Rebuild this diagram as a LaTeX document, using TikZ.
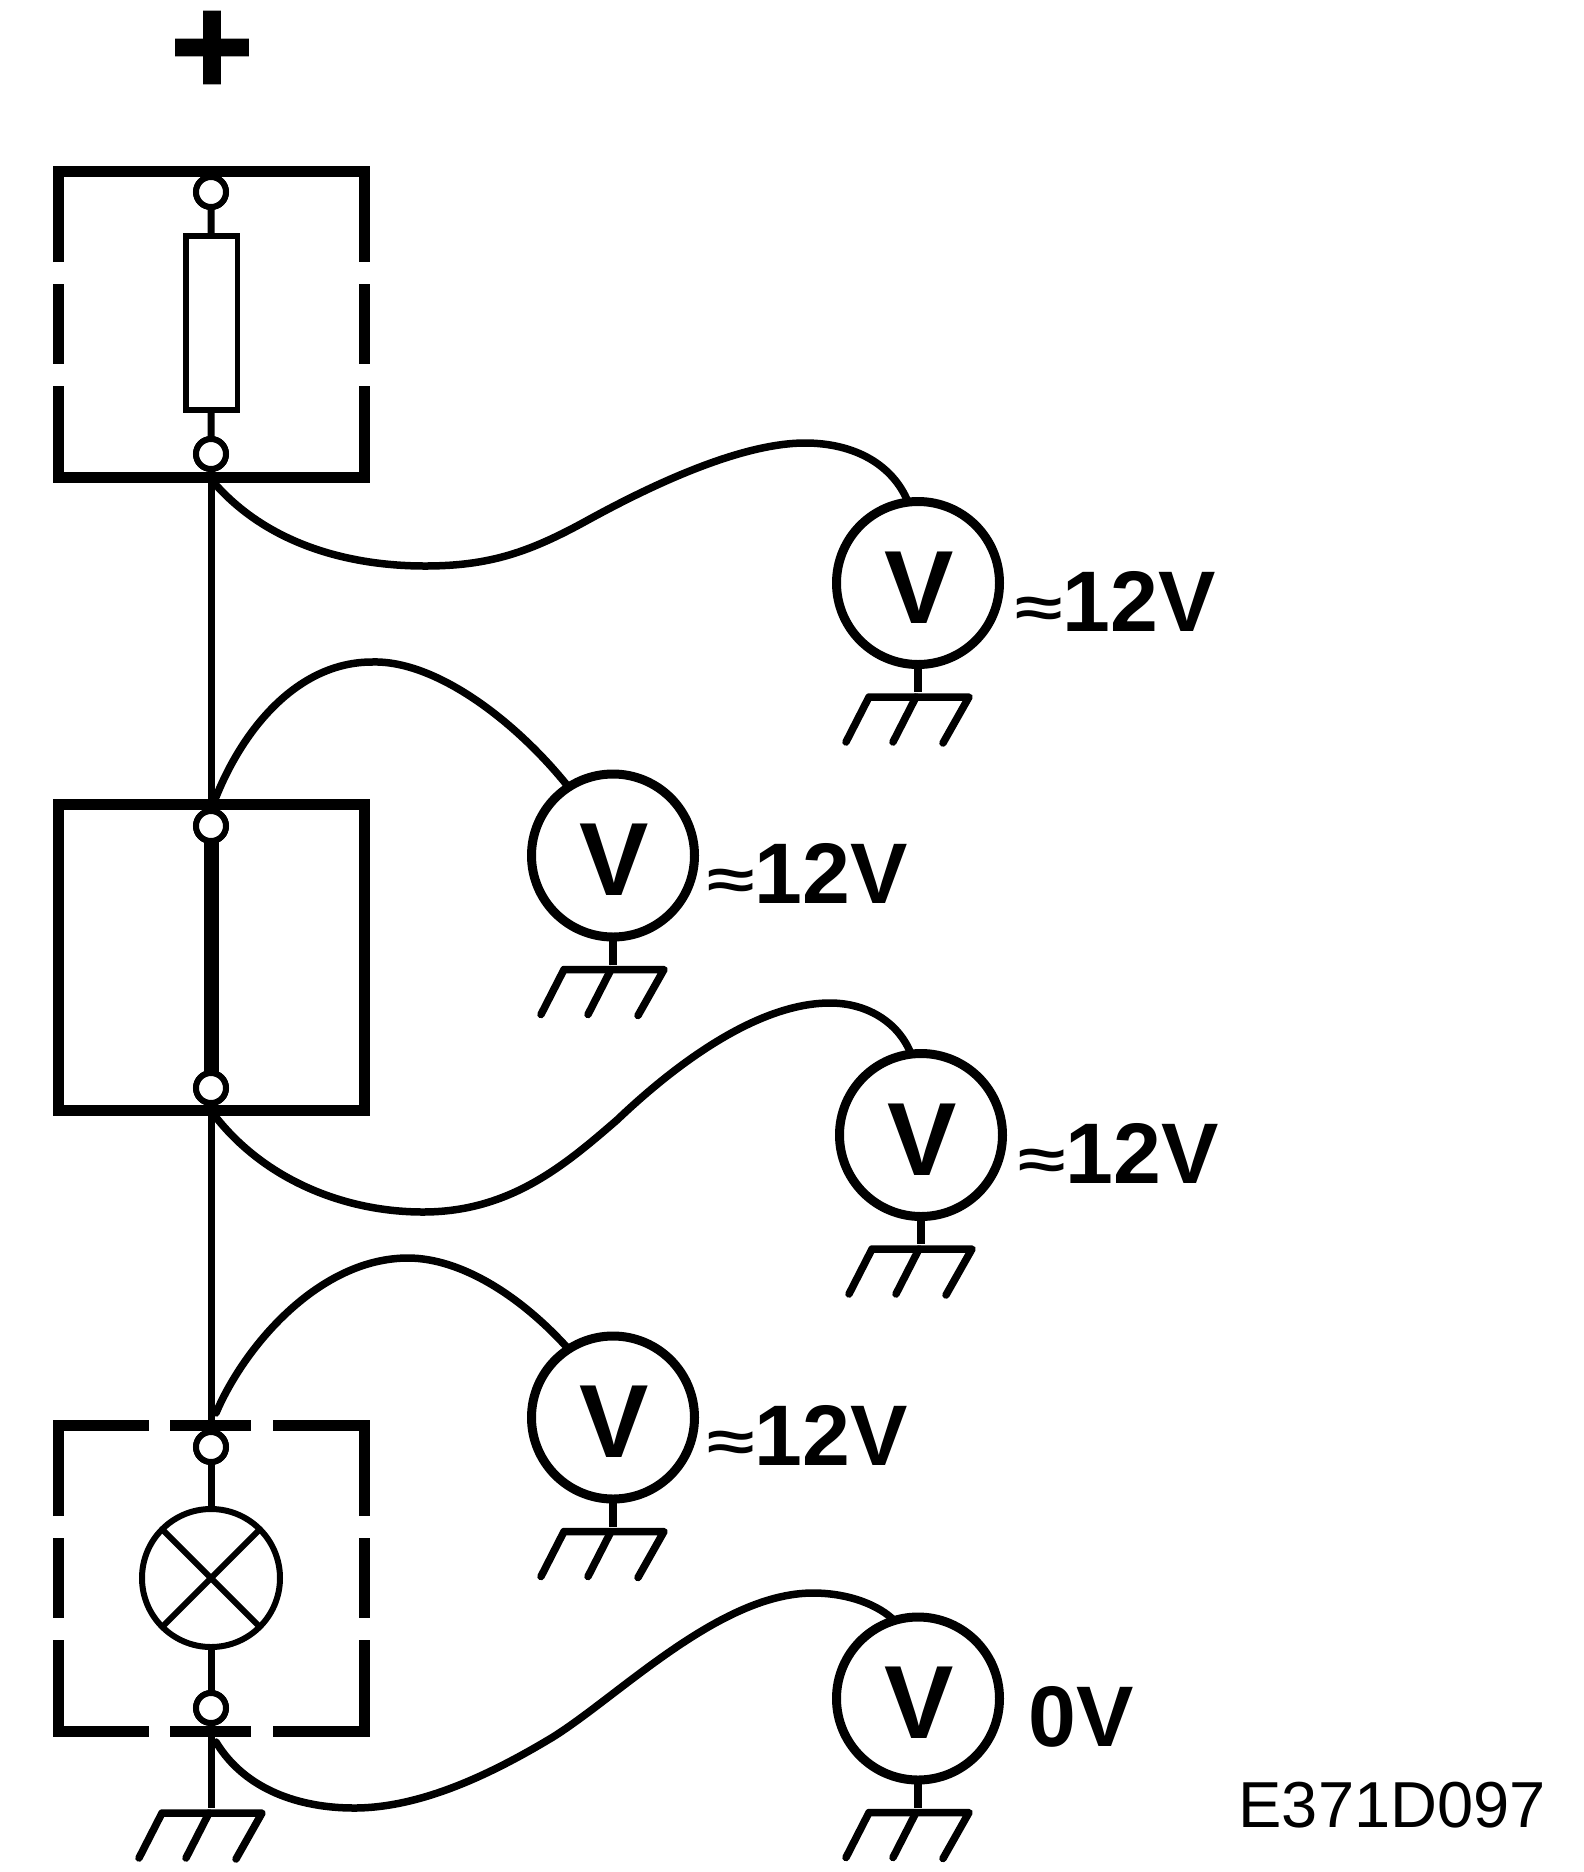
\documentclass[tikz,border=0pt]{standalone}
\usepackage{graphicx}
\usepackage{fontspec}
\setmainfont{Liberation Sans}
\newfontfamily\plusfont{DejaVu Sans}[FakeBold=9]
\newcommand\aboutsign{\raisebox{4pt}{\scalebox{1}[0.67]{≈}}}
\tikzset{
  x=1pt,y=-1pt,
  wire/.style={line width=7pt},
  box/.style={line width=11pt,line join=miter},
  probe/.style={line width=7.5pt,line cap=round},
  terminal/.style={circle,draw,fill=white,line width=6pt,minimum size=30pt,inner sep=0pt,outer sep=0pt},
  resistor/.style={rectangle,draw,fill=white,line width=5.5pt,minimum width=51.5pt,minimum height=174pt,inner sep=0pt,outer sep=0pt},
  lamp/.style={circle,draw,fill=white,line width=6pt,minimum size=138pt,inner sep=0pt,outer sep=0pt},
  meter/.style={circle,draw,fill=white,line width=9pt,minimum size=163pt,inner sep=0pt,outer sep=0pt},
  vletter/.style={inner sep=0pt,font=\fontsize{104}{104}\selectfont\bfseries},
  reading/.style={inner sep=0pt,anchor=base west,font=\fontsize{86}{86}\selectfont\bfseries},
  gndframe/.style={line width=7.5pt,line cap=round,line join=round},
}
\newcommand\earthsymbol{%
  \draw[gndframe] (-73,45) -- (-50,0) -- (50,0) -- (24,46);
  \draw[gndframe] (-3,0) -- (-26,45);
}
% name, x, y, reading, reading x offset
\newcommand\voltmeter[5]{%
  \begin{scope}[shift={(#2,#3)}]
    \node[meter] (#1) at (0,0) {};
    \node[vletter] (#1v) at (1,4.5) {V};
    \node[reading] (#1r) at (#5,48) {#4};
    \coordinate (#1g) at (0,109);
    \draw[line width=8.5pt] (#1) -- (#1g);
    \begin{scope}[shift={(1,114)}]\earthsymbol\end{scope}
  \end{scope}}
\begin{document}
\begin{tikzpicture}
\useasboundingbox (0,0) rectangle (1584,1872);
\fill[white] (0,0) rectangle (1584,1872);

% plus
\node[inner sep=0pt,font=\fontsize{103}{103}\selectfont\plusfont] (plus) at (212,47.5) {+};

% terminals and components
\node[terminal] (t1a) at (211,192) {};
\node[resistor] (res) at (211.5,323) {};
\node[terminal] (t1b) at (211,454) {};
\node[terminal] (t2a) at (211,826) {};
\node[terminal] (t2b) at (211,1088) {};
\node[terminal] (t3a) at (211,1447) {};
\node[lamp] (bulb) at (211,1578) {};
\node[terminal] (t3b) at (211,1708) {};
\coordinate (gmain) at (211,1808);

% wiring
\draw[wire] (t1a) -- (res);
\draw[wire] (res) -- (t1b);
\draw[wire] (t1b) -- (t2a);
\draw[line width=15pt] (t2a) -- (t2b);
\draw[wire] (t2b) -- (t3a);
\draw[wire] (t3a) -- (bulb);
\draw[wire] (bulb) -- (t3b);
\draw[wire] (t3b) -- (gmain);

% lamp cross
\draw[line width=6pt] (bulb.45) -- (bulb.225);
\draw[line width=6pt] (bulb.135) -- (bulb.315);

% ground of the lamp
\begin{scope}[shift={(212,1813)}]\earthsymbol\end{scope}

% box 1
\draw[box] (58,262) -- (58,171) -- (364.5,171) -- (364.5,262);
\draw[box] (58,284) -- (58,364);
\draw[box] (364.5,284) -- (364.5,364);
\draw[box] (58,386) -- (58,477) -- (364.5,477) -- (364.5,386);

% box 2
\draw[box] (58,804) rectangle (364.5,1110.5);

% box 3
\draw[box] (58,1516) -- (58,1425.5) -- (149,1425.5);
\draw[box] (170,1425.5) -- (251,1425.5);
\draw[box] (273,1425.5) -- (364.5,1425.5) -- (364.5,1516);
\draw[box] (58,1538) -- (58,1618);
\draw[box] (364.5,1538) -- (364.5,1618);
\draw[box] (58,1640) -- (58,1731.5) -- (149,1731.5);
\draw[box] (170,1731.5) -- (251,1731.5);
\draw[box] (273,1731.5) -- (364.5,1731.5) -- (364.5,1640);

% terminals above the box lines
\node[terminal] at (t1a) {};
\node[terminal] at (t1b) {};
\node[terminal] at (t2a) {};
\node[terminal] at (t2b) {};
\node[terminal] at (t3a) {};
\node[terminal] at (t3b) {};

% junctions
\coordinate (j1) at (216,485);
\coordinate (j2) at (216,797);
\coordinate (j3) at (215,1116);
\coordinate (j4) at (216,1413);
\coordinate (j5) at (216,1742);

% voltmeters
\voltmeter{m1}{918}{583}{\aboutsign 12V}{97}
\voltmeter{m2}{613}{855.5}{\aboutsign 12V}{94}
\voltmeter{m3}{921}{1135}{\aboutsign 12V}{97}
\voltmeter{m4}{613}{1417.5}{\aboutsign 12V}{94}
\voltmeter{m5}{918}{1698.5}{0V}{110}

% probes
\draw[probe] (j1) .. controls (270,545) and (350,566) .. (425,566)
  .. controls (490,566) and (530,552) .. (588,520)
  .. controls (650,486) and (740,443) .. (805,443)
  .. controls (855,443) and (893,465) .. (m1.97);
\draw[probe] (j2) .. controls (245,725) and (300,662) .. (372,662)
  .. controls (435,660) and (515,720) .. (m2.123);
\draw[probe] (j3) .. controls (265,1180) and (345,1212) .. (423,1212)
  .. controls (510,1212) and (565,1165) .. (617,1120)
  .. controls (680,1060) and (760,1003) .. (830,1003)
  .. controls (870,1003) and (900,1025) .. (m3.97);
\draw[probe] (j4) .. controls (245,1345) and (320,1258) .. (408,1258)
  .. controls (460,1258) and (520,1295) .. (m4.123);
\draw[probe] (j5) .. controls (245,1790) and (300,1808) .. (354,1808)
  .. controls (420,1808) and (490,1775) .. (553,1737)
  .. controls (620,1695) and (720,1593) .. (813,1593)
  .. controls (850,1593) and (880,1606) .. (m5.107);

% code
\node[inner sep=0pt,anchor=base east,font=\fontsize{65}{65}\selectfont] (code) at (1546,1827) {E371D097};
\end{tikzpicture}
\end{document}
